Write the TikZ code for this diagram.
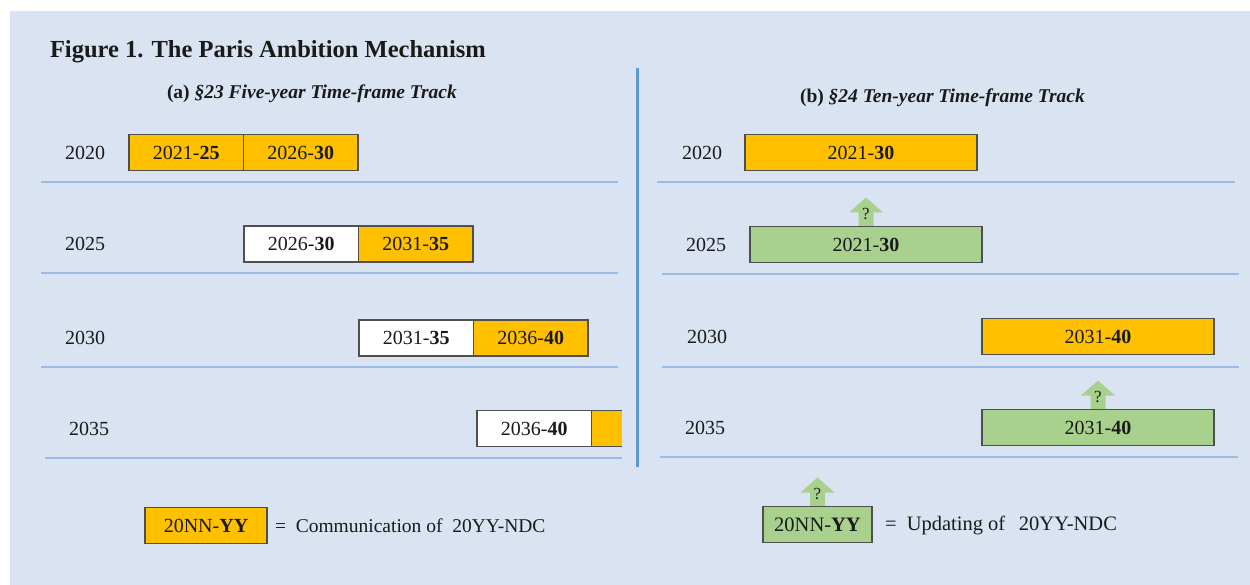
\documentclass[tikz,border=0pt]{standalone}
\usepackage{fontspec}
\setmainfont{Liberation Serif}
\definecolor{bgcol}{HTML}{DAE3F1}
\definecolor{ndcorange}{HTML}{FFC000}
\definecolor{ndcgreen}{HTML}{A9D18E}
\definecolor{boxline}{HTML}{4F4F4F}
\definecolor{seplinecol}{HTML}{9ABCE4}
\definecolor{dividercol}{HTML}{5B9BD5}
\definecolor{txt}{HTML}{1A1A1A}
\begin{document}
\begin{tikzpicture}[x=1pt,y=-1pt,
  every node/.style={inner sep=0pt, outer sep=0pt, text=txt},
  nbox/.style={draw=boxline, line width=1.1pt, minimum width=114.5pt, minimum height=36pt, font=\fontsize{20}{24}\selectfont, anchor=west},
  obox/.style={nbox, fill=ndcorange},
  wbox/.style={nbox, fill=white},
  gbox/.style={nbox, fill=ndcgreen, minimum width=232pt},
  wideobox/.style={obox, minimum width=232pt},
  yr/.style={font=\fontsize{20}{24}\selectfont},
  sepline/.style={draw=seplinecol, line width=1.6pt},
  divider/.style={draw=dividercol, line width=3pt},
  legtext/.style={anchor=west, font=\fontsize{19.5}{24}\selectfont},
  uparrow/.pic={
    \fill[ndcgreen] (-7.5,-0.6) -- (-7.5,-14) -- (-17,-14) -- (0,-29) -- (17,-14) -- (7.5,-14) -- (7.5,-0.6) -- cycle;
    \node[font=\fontsize{17}{20}\selectfont] (-q) at (0,-12.5) {?};
  }
]
\useasboundingbox (0,0) rectangle (1250,585);
\fill[bgcol] (10,11) rectangle (1250,585);

% titles
\node[anchor=base west, font=\fontsize{24.5}{28}\selectfont\bfseries] (title) at (50,58) {Figure 1. The Paris Ambition Mechanism};
\node[anchor=base west, font=\fontsize{19.5}{23}\selectfont\bfseries] (suba) at (167,99) {(a) \textit{§23 Five-year Time-frame Track}};
\node[anchor=base west, font=\fontsize{19.5}{23}\selectfont\bfseries] (subb) at (800,103) {(b) \textit{§24 Ten-year Time-frame Track}};

% divider
\draw[divider] (637,68) -- (637,467);

% left panel
\node[yr] (yL20) at (85,153) {2020};
\node[obox] (a2021) at (129,152.5) {2021-\textbf{25}};
\node[obox] (a2026) at (a2021.east) {2026-\textbf{30}};
\draw[sepline] (41,182) -- (618,182);

\node[yr] (yL25) at (85,244) {2025};
\node[wbox] (b2026) at (244,244) {2026-\textbf{30}};
\node[obox] (b2031) at (b2026.east) {2031-\textbf{35}};
\draw[sepline] (41,273) -- (618,273);

\node[yr] (yL30) at (85,338) {2030};
\node[wbox] (c2031) at (359,338) {2031-\textbf{35}};
\node[obox] (c2036) at (c2031.east) {2036-\textbf{40}};
\draw[sepline] (41,367) -- (618,367);

\node[yr] (yL35) at (89,428.5) {2035};
\node[wbox] (d2036) at (477,428.5) {2036-\textbf{40}};
\node[nbox, draw=none, fill=ndcorange, minimum width=30pt] (d2041) at (d2036.east) {};
\draw[draw=boxline, line width=1.1pt] (d2041.north east) -- (d2041.north west) -- (d2041.south west) -- (d2041.south east);
\draw[sepline] (45,458) -- (622,458);

% right panel
\node[yr] (yR20) at (702,153) {2020};
\node[wideobox] (e2021) at (745,152.5) {2021-\textbf{30}};
\draw[sepline] (657,182) -- (1235,182);

\node[yr] (yR25) at (706,245) {2025};
\node[gbox] (f2021) at (750,244.5) {2021-\textbf{30}};
\pic (fa) at (f2021.north) {uparrow};
\draw[sepline] (662,274) -- (1239,274);

\node[yr] (yR30) at (707,337) {2030};
\node[wideobox] (g2031) at (982,336.5) {2031-\textbf{40}};
\draw[sepline] (662,367) -- (1239,367);

\node[yr] (yR35) at (705,428) {2035};
\node[gbox] (h2031) at (982,427.5) {2031-\textbf{40}};
\pic (ha) at (h2031.north) {uparrow};
\draw[sepline] (660,457) -- (1238,457);

% legends
\node[obox, anchor=center, minimum width=122pt] (leg1) at (206,525.5) {20NN-\textbf{YY}};
\node[legtext] (leg1t) at (275,526) {=\ \ Communication of\ \ 20YY-NDC};
\node[gbox, anchor=center, minimum width=109pt, font=\fontsize{20.5}{24}\selectfont] (leg2) at (817.5,524.5) {20NN-\textbf{YY}};
\pic (la) at (leg2.north) {uparrow};
\node[legtext, font=\fontsize{20.5}{24}\selectfont] (leg2t) at (885,525) {=\ \ Updating of\ \ \,20YY-NDC};
\end{tikzpicture}
\end{document}
